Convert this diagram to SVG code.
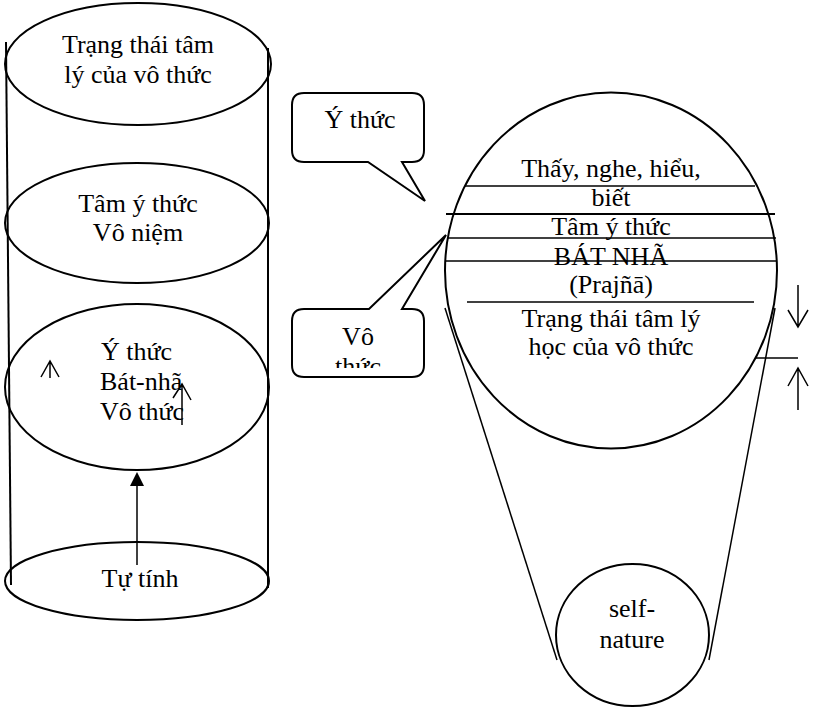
<svg xmlns="http://www.w3.org/2000/svg" width="815" height="708" viewBox="0 0 815 708">
<style>
  .s { fill: none; stroke: #000; stroke-width: 2; }
  .t { fill: none; stroke: #000; stroke-width: 1.5; }
  .c { text-anchor: middle; }
</style>
<defs>
  <clipPath id="vclip"><rect x="292" y="309" width="132" height="59"/></clipPath>
</defs>
<rect width="815" height="708" fill="#fff"/>

<g id="cylinder-sides">
  <line class="s" x1="6" y1="42" x2="11" y2="585"/>
  <line class="s" x1="268" y1="48" x2="268" y2="588"/>
</g>

<g font-family="'Liberation Serif', 'Times New Roman', Times, serif" font-size="26" fill="#000">
<g id="n-top">
  <ellipse class="s" cx="138" cy="64" rx="133" ry="61"/>
  <text class="c" x="138" y="53">Trạng thái tâm</text>
  <text class="c" x="138" y="83">lý của vô thức</text>
</g>

<g id="n-vo-niem">
  <ellipse class="s" cx="137" cy="223" rx="132" ry="60"/>
  <text class="c" x="138" y="212">Tâm ý thức</text>
  <text class="c" x="138" y="241">Vô niệm</text>
</g>

<g id="n-bat-nha">
  <ellipse class="s" cx="137" cy="387" rx="132" ry="83"/>
  <text x="101" y="360">Ý thức</text>
  <text x="100" y="390">Bát-nhã</text>
  <text x="100" y="420">Vô thức</text>
</g>

<g id="n-tu-tinh">
  <ellipse class="s" cx="137" cy="581" rx="132" ry="39"/>
  <text class="c" x="140" y="587">Tự tính</text>
</g>

<g id="bubble-y-thuc">
  <path class="s" d="M304,93 H412 Q424,93 424,105 V150 Q424,162 412,162 H402 L425,201 L368,162 H304 Q292,162 292,150 V105 Q292,93 304,93 Z"/>
  <text class="c" x="360" y="128">Ý thức</text>
</g>

<g id="bubble-vo-thuc">
  <path class="s" d="M304,309 H369 L446,235 L402,309 H412 Q424,309 424,321 V365 Q424,377 412,377 H304 Q292,377 292,365 V321 Q292,309 304,309 Z"/>
  <g clip-path="url(#vclip)">
    <text class="c" x="358" y="345">Vô</text>
    <text class="c" x="358" y="375">thức</text>
  </g>
</g>

<g id="n-big-circle">
  <ellipse class="s" cx="611" cy="270.5" rx="166" ry="178"/>
  <line class="t" x1="465" y1="186" x2="755" y2="186"/>
  <line class="s" x1="446" y1="214" x2="775" y2="214"/>
  <line class="t" x1="447" y1="238" x2="776" y2="238"/>
  <line class="t" x1="446" y1="261" x2="776" y2="261"/>
  <line class="t" x1="467" y1="302" x2="754" y2="302"/>
  <line class="t" x1="755" y1="358" x2="798" y2="358"/>
  <text class="c" x="611" y="177">Thấy, nghe, hiểu,</text>
  <text class="c" x="611" y="206">biết</text>
  <text class="c" x="611" y="235">Tâm ý thức</text>
  <text class="c" x="611" y="265">BÁT NHÃ</text>
  <text class="c" x="611" y="293">(Prajñā)</text>
  <text class="c" x="611" y="327">Trạng thái tâm lý</text>
  <text class="c" x="611" y="355">học của vô thức</text>
</g>

<g id="n-self-nature">
  <ellipse class="s" cx="632.5" cy="635" rx="76.5" ry="71"/>
  <text class="c" x="632" y="617">self-</text>
  <text class="c" x="632" y="648">nature</text>
</g>
</g>

<g id="connectors">
  <line class="t" x1="445" y1="308" x2="557" y2="660"/>
  <line class="t" x1="775" y1="308" x2="709" y2="660"/>
  <line class="t" x1="137" y1="565" x2="137" y2="484"/>
  <polygon points="137,472 130,486 144,486" fill="#000"/>
  <path class="t" d="M50,378 V361 M41,377 L50,361 L59,377"/>
  <path class="t" d="M182,425 V384 M173,398 L182,384 L191,400"/>
  <path class="t" d="M798,285 V326 M788,310 L798,327 L808,310"/>
  <path class="t" d="M798,410 V369 M788,386 L798,368 L808,386"/>
</g>
</svg>
